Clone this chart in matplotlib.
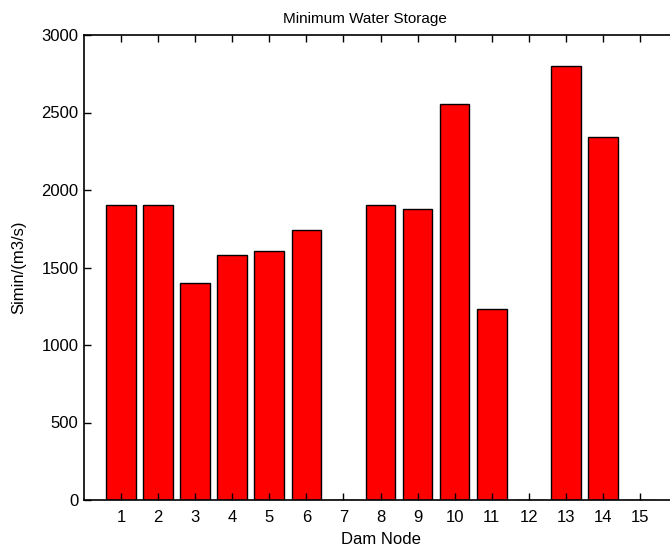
import matplotlib
matplotlib.use("Agg")
import matplotlib.pyplot as plt

plt.rcParams['font.family'] = ['Liberation Sans', 'DejaVu Sans']

nodes = list(range(1, 16))
simin = [1905, 1905, 1400, 1580, 1605, 1745, 0, 1905, 1878, 2555, 1235, 0, 2800, 2345, 0]
yticks = [0, 500, 1000, 1500, 2000, 2500, 3000]

fig = plt.figure(figsize=(6.7, 5.5), dpi=100)
ax = fig.add_axes([84/670, 1 - 500/550, (677 - 84)/670, (500 - 35)/550])
ax.bar(nodes, simin, width=0.8, color='#ff0000', edgecolor='black', linewidth=1.0)
ax.set_xlim(0, 16)
ax.set_ylim(0, 3000)
ax.set_xticks(nodes)
ax.set_yticks(yticks)
ax.tick_params(direction='in', top=True, right=True, labelsize=12, length=5, width=1)
ax.tick_params(axis='x', pad=7)
ax.tick_params(axis='y', pad=4)
for s in ax.spines.values():
    s.set_linewidth(1.2)
fig.text(365/670, 1 - 23/550, 'Minimum Water Storage', fontsize=11, ha='center', va='baseline')
ax.set_xlabel('Dam Node', fontsize=12, labelpad=5)
ax.set_ylabel('Simin/(m3/s)', fontsize=12, labelpad=11)
fig.savefig('out.png', dpi=100)
